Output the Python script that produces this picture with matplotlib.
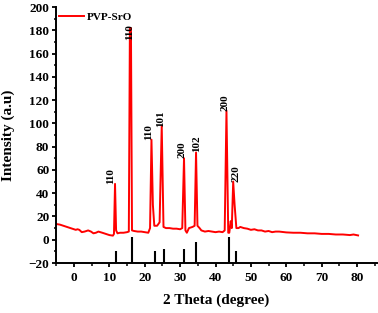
import matplotlib
matplotlib.use("Agg")
import matplotlib.pyplot as plt
from matplotlib.ticker import MultipleLocator

plt.rcParams['font.family'] = ['Liberation Serif', 'DejaVu Serif']

two_theta = [-5, -4, -3, -2, -1, 0, 0.5, 1, 1.5, 2.2, 3, 4, 4.8, 5.5, 6.2, 6.9, 8, 9, 10, 11, 11.3,
             11.6, 11.9, 12.3, 13, 14, 15, 15.5, 15.8, 16.1, 16.4, 17, 18, 19, 20, 21, 21.5, 21.9,
             22.3, 22.7, 23.5, 24.2, 24.8, 25.3, 26, 27, 28, 29, 30, 30.6, 31.1, 31.5, 31.9, 32.5,
             33.5, 34.1, 34.5, 34.9, 35.5, 36, 37, 38, 39, 40, 41, 42, 42.6, 43.1, 43.6, 43.9, 44.3,
             44.6, 45, 45.4, 45.9, 46.5, 47, 48, 49, 50, 51, 52, 53, 54, 55, 56, 57, 58, 60, 62, 64,
             66, 68, 70, 72, 74, 76, 78, 79, 80.3]
intensity = [13.5, 13, 12, 11, 10, 9, 8.5, 9, 8.5, 6.5, 7, 8, 7, 5.5, 6, 7, 6, 5, 4, 3.5, 5,
             48, 8, 5.5, 6, 6, 6.5, 7, 182, 182, 8, 7.5, 7, 7, 6.5, 6, 10, 86,
             30, 12, 12, 15, 98, 11, 10, 10, 9.5, 9.5, 9, 10, 70, 8, 6, 10,
             11, 12, 75, 12, 10, 8, 7, 7.5, 7, 6.5, 7, 6.5, 8, 111, 6, 6, 16,
             10, 50, 30, 10, 10, 11, 10, 9.5, 8.5, 9, 8, 8, 7, 7.5, 6.5, 7, 7, 6.3, 6, 6,
             5.5, 5.5, 5, 5, 4.5, 4.5, 4, 4.5, 3.7]

ref_pos = [11.9, 16.3, 23.0, 25.4, 31.1, 34.5, 43.7, 45.7]
ref_top = [-10, 2, -10, -8, -8, -2, 2, -10]
ref_base = -20

peak_labels = ['110', '110', '110', '101', '200', '102', '200', '220']
peak_label_x = [10.5, 15.6, 21.2, 24.6, 30.6, 34.7, 42.7, 45.7]
peak_label_y = [48, 172, 86, 97, 70, 75, 111, 50]

fig = plt.figure(figsize=(3.78, 3.13), dpi=100)
ax = fig.add_axes([56.3/378, 1-263/313, (377-56.3)/378, (263-7)/313])

ax.plot(two_theta, intensity, color='#ff0000', lw=1.4, label='PVP-SrO')
ax.vlines(ref_pos, ref_base, ref_top, color='black', lw=1.5)

for t, x, y in zip(peak_labels, peak_label_x, peak_label_y):
    ax.text(x, y, t, rotation=90, ha='center', va='bottom', fontsize=8,
            fontweight='bold', color='black')

ax.set_xlim(-5, 85.65)
ax.set_ylim(-20, 200)
ax.xaxis.set_major_locator(MultipleLocator(10))
ax.xaxis.set_minor_locator(MultipleLocator(5))
ax.yaxis.set_major_locator(MultipleLocator(20))
ax.yaxis.set_minor_locator(MultipleLocator(10))
ax.spines['top'].set_visible(False)
ax.spines['right'].set_visible(False)
for s in ['left', 'bottom']:
    ax.spines[s].set_linewidth(1.4)
ax.tick_params(which='major', direction='out', length=3, width=1.3, labelsize=9.5)
ax.tick_params(which='minor', direction='out', length=1.8, width=1.1)
ax.tick_params(axis='x', which='major', pad=3.5)
ax.tick_params(axis='y', which='major', pad=2)
for lab in ax.get_xticklabels() + ax.get_yticklabels():
    lab.set_fontweight('bold')

ax.set_xlabel('2 Theta (degree)', fontsize=11, fontweight='bold')
ax.set_ylabel('Intensity (a.u)', fontsize=11, fontweight='bold')
ax.xaxis.set_label_coords(0.498, -0.118)
ax.yaxis.set_label_coords(-0.128, 0.5)

leg = ax.legend(loc='upper left', bbox_to_anchor=(0.0, 0.988), frameon=False,
                handlelength=2.25, borderaxespad=0.0, borderpad=0.2, handletextpad=0.3,
                prop={'weight': 'bold', 'size': 8})

fig.savefig('out.png', dpi=100)
